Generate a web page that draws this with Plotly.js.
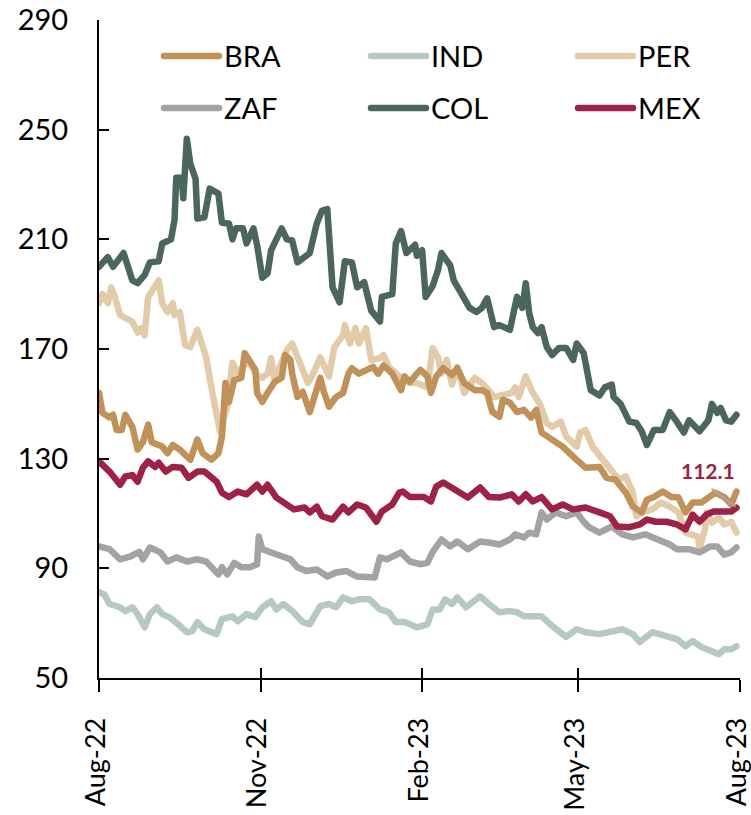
<!DOCTYPE html>
<html>
<head>
<meta charset="utf-8">
<script src="https://cdn.plot.ly/plotly-3.0.1.min.js"></script>
<style>
html,body{margin:0;padding:0;background:#fff;}
#chart{width:751px;height:815px;}
.js-line{stroke-linejoin:round;stroke-linecap:round;}
</style>
</head>
<body>
<div id="chart"></div>
<script>
// Day offsets are days since 1 Aug 2022
const COL_days = [0,5,8,14,19,22,26,29,34,36,41,43,44,47,48,50,52,55,56,60,63,68,70,74,76,78,82,84,88,90,93,96,98,104,107,110,113,120,124,127,130,133,137,140,144,147,151,155,160,161,167,169,172,175,180,181,184,186,190,193,195,200,202,207,211,215,218,221,225,228,234,236,238,241,243,245,247,250,252,255,258,262,266,270,272,276,280,285,288,292,293,297,302,306,309,312,316,321,325,329,333,336,342,347,349,352,354,357,360,363];
const COL = [200,203.5,200,205,195,194,197,201.6,202,208.5,210,217,232.5,232.5,225,246.7,237.6,232,217.6,218,228.5,226.7,216,215.8,210,214,214,208.5,214,208,196,197.6,206,214,210,209.6,201.6,205,215.8,220.5,221,192.5,187,202,201.6,192.5,194.4,184,180,189,190,208.5,213,205,208,204,206,189,193,198.7,205,200.5,195,189.6,185,183.5,185,188.5,178,178.7,177,183,189,185,194,183,178,175.8,178,170.7,167.8,170.4,170.4,166,172,168.5,155,153,156,157,152.5,150,143.5,143,140,135,140.5,140.5,147,143.5,139.5,144,140,144,150,146.7,148.5,144,143.5,146];

const PER_days = [0,2,5,7,9,12,16,19,22,24,26,28,34,36,39,42,43,46,49,52,56,59,61,64,67,69,72,73,76,79,82,85,88,90,93,96,98,100,103,107,110,113,116,119,122,126,129,131,134,139,140,143,146,148,152,155,160,162,165,171,177,181,187,190,193,195,198,201,204,208,214,219,225,235,237,239,243,247,251,255,258,263,266,272,274,277,281,287,292,296,300,304,306,309,315,320,325,330,334,341,342,345,346,349,353,356,360,363];
const PER = [186.7,190,186.7,192.5,189,182.4,181,180,176,177.6,175,189,195,186.7,183.5,186.7,182.4,183.5,171.5,170.7,177,172,167,156,146.7,139.5,146.7,149,165,161,163.5,166,162.4,160.5,159.5,161,166.7,158.7,163.5,169.6,172,167.8,162.4,157.6,161,167,162.4,160,170.7,175,178.7,172,177.6,172,177.6,166,166.7,167.8,163.5,160,157.6,157.6,156,170.4,167,161,166,157,163.5,154,159.5,157,152.5,154,156,152.5,160,154,150,143,141.6,143.5,138,134.4,139.5,140.5,134.4,129.6,126,122.4,123.5,117.6,109,110.4,111.5,114,112.5,110.4,103,101.6,97.6,104,110.4,106.7,108.5,106,107,103];

const BRA_days = [0,2,6,8,10,13,15,19,22,25,28,30,36,39,42,46,52,56,59,64,68,70,72,74,77,81,83,86,89,90,93,96,100,104,106,109,110,113,116,120,124,126,128,131,135,139,142,144,148,152,156,159,162,167,169,172,174,177,181,183,187,189,192,196,201,204,208,214,218,221,224,228,230,234,238,242,246,249,252,256,264,272,277,285,289,294,300,304,309,312,316,321,326,330,334,338,343,347,351,356,360,363];
const BRA = [154,146.7,145,146,140.5,140.5,146,141.6,133.3,136,142.4,136,134.4,132,135,133.3,129.6,137,132,129.6,132,138,157.6,150.7,158.7,159.5,168.5,165,162.4,154,150.7,154,158,159.5,167.8,166,161,152.5,154.4,147,155,159.5,154.4,149,152.5,154,161,163,161,162.4,163.5,161,164,161,158.7,155,160,158,161,162.4,160,154,160,163,160.5,163,157.6,155,155,154,147,145.3,151.5,150.4,147,147.8,145,147.8,139.5,137.6,134.4,129.6,126.7,127,123,122.4,117.6,112.5,110.4,115,116,118,116,115.8,110.4,114,114,115.8,117.6,116,113.3,118];

const MEX_days = [0,6,12,15,19,22,25,28,32,34,38,42,47,51,56,60,67,70,74,79,84,90,93,96,101,109,111,117,120,124,127,133,139,142,147,152,158,161,167,171,173,177,181,185,189,192,196,201,210,217,222,228,235,239,243,247,252,258,264,270,277,285,291,295,302,308,312,317,323,329,334,338,342,346,350,354,358,360,363];
const MEX = [129,125.3,120.5,123.5,124,121.6,126.7,129,127,128.5,125.3,127,126.7,123,125.3,125.3,121.6,117.6,116,118,117,120.5,118,120.5,115.8,112.5,111.5,112.2,110.4,112.5,109,107.8,112.5,110.4,113.3,112.2,107,110.7,113.3,117.6,118,116,115.8,116,114.4,119.8,121.3,119.5,115.8,119.5,116,115.8,117,114.4,117,114.4,116,111.5,113.3,111.5,112.2,110.4,109,105.3,105,106,107.8,107,107,106,104.2,109.6,107,109.6,110.7,110.7,110.4,110.7,112.1];

const ZAF_days = [0,6,12,18,23,25,29,35,39,44,50,56,61,68,70,73,77,81,86,90,91,93,98,103,109,113,118,124,130,135,141,147,152,157,160,164,172,177,183,187,190,195,200,204,210,217,222,228,234,237,242,245,249,252,255,260,266,272,276,279,285,289,292,298,304,311,319,325,329,336,342,348,352,356,360,363];
const ZAF = [98,97,93.3,94.4,96,93.3,97.6,95.8,92.5,94,92.5,93.3,92.5,87.8,90.4,87.8,92,90.4,90.4,91.5,101.6,97,95.8,94.4,93.3,90.4,89,89.6,87,88.5,89,87,87,86.7,94,93.3,95.8,92.5,91.5,92,96,100.5,98,99.8,97,99.8,99.4,98.7,100.5,102.4,101.3,103,102.4,110.4,107.8,110.4,109,110.4,107,105,103,104.2,105.3,102.4,101.3,102.4,100.5,98.7,97,97,95.8,98,98,95,95.8,97.6];

const IND_days = [0,3,6,12,15,19,22,26,29,33,36,40,45,50,53,56,60,67,70,76,79,84,89,93,98,101,105,110,116,120,126,131,135,139,144,148,154,160,165,169,174,177,181,187,190,194,197,201,204,209,217,222,228,234,238,242,249,252,258,266,272,277,285,292,298,304,308,315,323,329,334,338,343,348,353,356,360,363];
const IND = [81.3,80.5,77,75.8,74.4,75.8,73.3,68.5,73.3,75.8,73.3,72.2,69.6,66.7,67,70.4,67.8,66,71.5,72.5,70.7,73.3,72.2,75.8,78,75,77,74.4,70.4,69.6,76.2,77,75.8,79.4,78,78.7,78.7,75,74,70.4,70.4,69.6,68.5,69.6,75,75,78.7,77,79.4,75.8,79.8,77,74,74.4,74,72.5,72.2,72.5,69,65,67.8,66.7,66,67,67.8,66,63.1,66.7,65.3,64.2,61.6,63.5,61.3,59.8,58.7,60.5,60.5,61.6];

const tickDates = ['2022-08-01','2022-11-01','2023-02-01','2023-05-01','2023-08-01'];
const tickLabels = ['Aug-22','Nov-22','Feb-23','May-23','Aug-23'];
const yTicks = [50,90,130,170,210,250,290];
const lastLabel = '112.1';

const base = Date.UTC(2022,7,1);
const toDate = d => new Date(base + d*86400000).toISOString().slice(0,10);

const FONT = 'Lato, "Open Sans", sans-serif';
// legend slot: column (0..2) and row (0..1)
const series = [
  {name:'PER', days:PER_days, v:PER, color:'#E1CBA9', col:2, row:0, lg:'legend3'},
  {name:'BRA', days:BRA_days, v:BRA, color:'#C0925A', col:0, row:0, lg:'legend'},
  {name:'IND', days:IND_days, v:IND, color:'#B5C9C2', col:1, row:0, lg:'legend2'},
  {name:'ZAF', days:ZAF_days, v:ZAF, color:'#A3A3A3', col:0, row:1, lg:'legend4'},
  {name:'COL', days:COL_days, v:COL, color:'#4B665C', col:1, row:1, lg:'legend5'},
  {name:'MEX', days:MEX_days, v:MEX, color:'#9E2146', col:2, row:1, lg:'legend6'}
];

const traces = series.map(s => ({
  type:'scatter', mode:'lines', name:s.name,
  x:s.days.map(toDate), y:s.v,
  line:{color:s.color, width:6.5},
  legend:s.lg, hoverinfo:'skip'
}));
// helper trace so the inside half of the crossing x ticks can be drawn
traces.push({type:'scatter', mode:'lines', x:[toDate(0), toDate(365)], y:[null,null],
  xaxis:'x2', yaxis:'y', showlegend:false, hoverinfo:'skip'});

const lastDay = toDate(MEX_days[MEX_days.length-1]);
const lastVal = MEX[MEX.length-1];

const colX = [0.0936, 0.4165, 0.7395];
const rowY = [0.945, 0.866];

const layout = {
  width:751, height:815,
  margin:{l:99, r:11, t:20, b:137},
  paper_bgcolor:'#fff', plot_bgcolor:'#fff',
  font:{family:FONT, color:'#000'},
  showlegend:true,
  xaxis:{type:'date', range:[toDate(0), toDate(365)],
    tickmode:'array', tickvals:tickDates, ticktext:tickLabels,
    tickangle:-90, ticks:'outside', ticklen:12, tickwidth:2, tickcolor:'#000',
    showline:true, linewidth:2, linecolor:'#000', showgrid:false, zeroline:false,
    ticklabeloverflow:'allow', ticklabelshift:-3,
    tickfont:{family:FONT, size:27, color:'#000'}, ticklabelstandoff:15},
  xaxis2:{type:'date', overlaying:'x', matches:'x', anchor:'y',
    tickmode:'array', tickvals:tickDates, ticks:'inside', ticklen:10, tickwidth:2, tickcolor:'#000',
    showticklabels:false, showline:false, showgrid:false, zeroline:false},
  yaxis:{range:[50,290], tickmode:'array', tickvals:yTicks,
    ticks:'inside', ticklen:10, tickwidth:2, tickcolor:'#000',
    showline:true, linewidth:2, linecolor:'#000', showgrid:false, zeroline:false,
    tickfont:{family:FONT, size:29, color:'#000'}, ticklabelstandoff:23},
  shapes:[
    {type:'line', xref:'x', yref:'y', xsizemode:'pixel', ysizemode:'pixel',
     xanchor:lastDay, yanchor:lastVal, x0:-25, x1:-1, y0:19, y1:1,
     line:{color:'#A8A8A8', width:1.8}, layer:'above'}
  ],
  annotations:[
    {x:lastDay, y:lastVal, xref:'x', yref:'y', text:'<b>'+lastLabel+'</b>', showarrow:false,
     xanchor:'right', yanchor:'middle', xshift:1, yshift:37,
     font:{family:FONT, size:21, color:'#9E2146'}}
  ]
};
series.forEach(s => {
  layout[s.lg] = {x:colX[s.col], y:rowY[s.row], xanchor:'left', yanchor:'middle',
    orientation:'h', font:{family:FONT, size:29, color:'#000'},
    bgcolor:'rgba(0,0,0,0)', itemwidth:55};
});

Plotly.newPlot('chart', traces, layout, {staticPlot:true, displayModeBar:false});
</script>
</body>
</html>
